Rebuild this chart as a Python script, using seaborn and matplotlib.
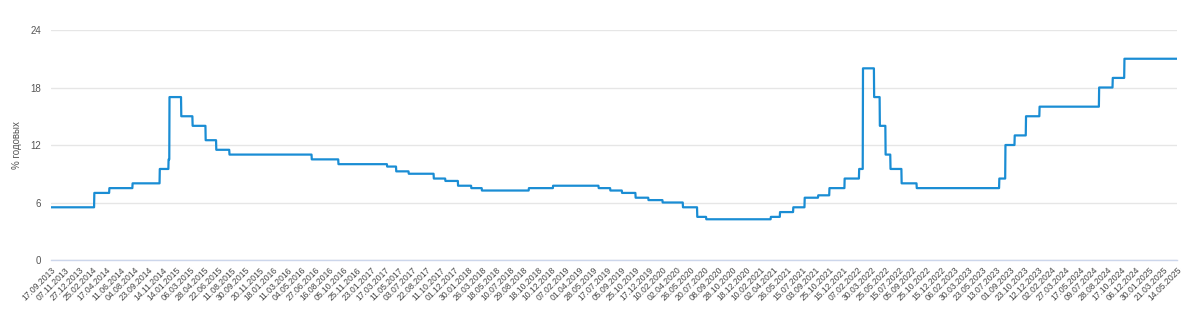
import numpy as np
import pandas as pd
import matplotlib
matplotlib.use("Agg")
import matplotlib.pyplot as plt
import seaborn as sns

# Key rate change dates and values (% per year)
change_dates = [
    "13.09.2013", "03.03.2014", "28.04.2014", "28.07.2014", "05.11.2014",
    "12.12.2014", "16.12.2014", "02.02.2015", "16.03.2015", "05.05.2015",
    "16.06.2015", "03.08.2015", "14.06.2016", "19.09.2016", "27.03.2017",
    "02.05.2017", "19.06.2017", "18.09.2017", "30.10.2017", "18.12.2017",
    "12.02.2018", "26.03.2018", "17.09.2018", "17.12.2018", "17.06.2019",
    "29.07.2019", "09.09.2019", "28.10.2019", "16.12.2019", "10.02.2020",
    "27.04.2020", "22.06.2020", "27.07.2020", "22.03.2021", "26.04.2021",
    "15.06.2021", "26.07.2021", "13.09.2021", "25.10.2021", "20.12.2021",
    "14.02.2022", "28.02.2022", "11.04.2022", "04.05.2022", "27.05.2022",
    "14.06.2022", "25.07.2022", "19.09.2022", "24.07.2023", "15.08.2023",
    "18.09.2023", "30.10.2023", "18.12.2023", "29.07.2024", "16.09.2024",
    "28.10.2024",
]
change_rates = [
    5.5, 7.0, 7.5, 8.0, 9.5,
    10.5, 17.0, 15.0, 14.0, 12.5,
    11.5, 11.0, 10.5, 10.0, 9.75,
    9.25, 9.0, 8.5, 8.25, 7.75,
    7.5, 7.25, 7.5, 7.75, 7.5,
    7.25, 7.0, 6.5, 6.25, 6.0,
    5.5, 4.5, 4.25, 4.5, 5.0,
    5.5, 6.5, 6.75, 7.5, 8.5,
    9.5, 20.0, 17.0, 14.0, 11.0,
    9.5, 8.0, 7.5, 8.5, 12.0,
    13.0, 15.0, 16.0, 18.0, 19.0,
    21.0,
]

tick_labels = [
    "17.09.2013", "07.11.2013", "27.12.2013",
    "25.02.2014", "17.04.2014", "11.06.2014", "04.08.2014", "23.09.2014", "14.11.2014",
    "14.01.2015", "06.03.2015", "28.04.2015", "22.06.2015", "11.08.2015", "30.09.2015", "20.11.2015",
    "18.01.2016", "11.03.2016", "04.05.2016", "27.06.2016", "16.08.2016", "05.10.2016", "25.11.2016",
    "23.01.2017", "17.03.2017", "11.05.2017", "03.07.2017", "22.08.2017", "11.10.2017", "01.12.2017",
    "30.01.2018", "26.03.2018", "18.05.2018", "10.07.2018", "29.08.2018", "18.10.2018", "10.12.2018",
    "07.02.2019", "01.04.2019", "28.05.2019", "17.07.2019", "05.09.2019", "25.10.2019", "17.12.2019",
    "10.02.2020", "02.04.2020", "26.05.2020", "20.07.2020", "08.09.2020", "28.10.2020", "18.12.2020",
    "10.02.2021", "02.04.2021", "26.05.2021", "15.07.2021", "03.09.2021", "25.10.2021", "15.12.2021",
    "07.02.2022", "30.03.2022", "25.05.2022", "15.07.2022", "05.09.2022", "25.10.2022", "15.12.2022",
    "06.02.2023", "30.03.2023", "23.05.2023", "13.07.2023", "01.09.2023", "23.10.2023", "12.12.2023",
    "02.02.2024", "27.03.2024", "17.05.2024", "09.07.2024", "28.08.2024", "17.10.2024", "06.12.2024",
    "30.01.2025", "21.03.2025", "14.05.2025",
]
y_ticks = [0, 6, 12, 18, 24]

# ---- build daily series ----
tick_dates = pd.to_datetime(tick_labels, format="%d.%m.%Y")
days = pd.date_range(tick_dates[0], tick_dates[-1], freq="D")
chg = pd.Series(change_rates, index=pd.to_datetime(change_dates, format="%d.%m.%Y"))
rate = chg.reindex(chg.index.union(days)).ffill().reindex(days)
# category-axis position (labels are equally spaced on the chart)
pos = np.interp(days.asi8, tick_dates.asi8, np.arange(len(tick_labels)))
df = pd.DataFrame({"pos": pos, "rate": rate.values})

sns.set_theme(style="white")
plt.rcParams["font.family"] = ["Liberation Sans", "DejaVu Sans"]

fig = plt.figure(figsize=(12, 3.18), dpi=100)
ax = fig.add_axes([51 / 1200, 58 / 318, 1126 / 1200, 230 / 318])

sns.lineplot(data=df, x="pos", y="rate", ax=ax, color="#1a8dd4", linewidth=1.6)

ax.set_xlim(0, len(tick_labels) - 1)
ax.set_ylim(0, 24)
ax.set_yticks(y_ticks)
ax.set_yticklabels([str(v) for v in y_ticks], fontsize=7, color="#555555")
ax.tick_params(axis="y", length=0, pad=7)
ax.set_xticks(np.arange(len(tick_labels)))
ax.set_xticklabels(tick_labels, rotation=45, ha="right", rotation_mode="anchor",
                   fontsize=6.2, color="#444444")
ax.tick_params(axis="x", length=0, pad=4)
ax.grid(axis="y", color="#e6e6e6", linewidth=1)
ax.grid(axis="x", visible=False)
for s in ["top", "right", "left"]:
    ax.spines[s].set_visible(False)
ax.spines["bottom"].set_color("#ccd6eb")
ax.spines["bottom"].set_linewidth(1)
ax.set_xlabel("")
ax.set_ylabel("% годовых", fontsize=7, color="#555555", labelpad=6)

fig.savefig("out.png", dpi=100)
